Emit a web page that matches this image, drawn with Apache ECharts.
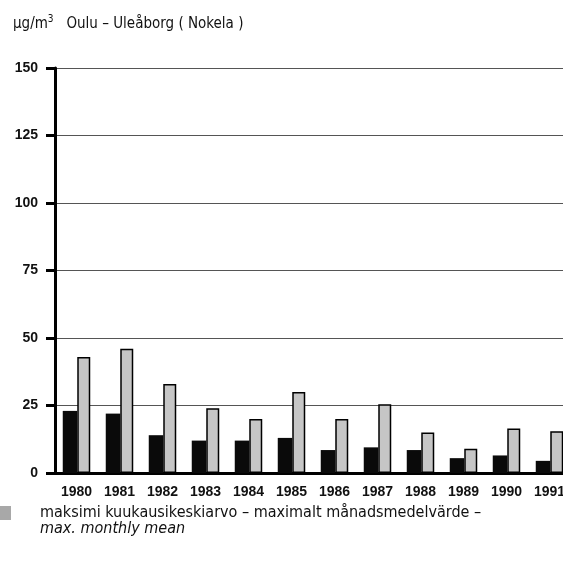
<!DOCTYPE html>
<html>
<head>
<meta charset="utf-8">
<script src="https://cdn.jsdelivr.net/npm/echarts@6/dist/echarts.min.js"></script>
<style>
html,body{margin:0;padding:0;background:#fff;overflow:hidden;}
#c{width:571px;height:568px;}
</style>
</head>
<body>
<div id="c"></div>
<script>
// Data
const years = ['1980','1981','1982','1983','1984','1985','1986','1987','1988','1989','1990','1991'];
const annualMean = [23, 22, 14, 12, 12, 13, 8.5, 9.5, 8.5, 5.5, 6.5, 4.5];
const maxMonthlyMean = [43, 46, 33, 24, 20, 30, 20, 25.5, 15, 9, 16.5, 15.5];
const yTicks = [0, 25, 50, 75, 100, 125, 150];
const legendLine1 = 'maksimi kuukausikeskiarvo – maximalt månadsmedelvärde –';
const legendLine2 = 'max. monthly mean';
const titleUnit = 'µg/m';
const titlePlace = 'Oulu – Uleåborg ( Nokela )';

const NARROW = '"Liberation Sans Narrow", "DejaVu Sans Condensed", "Liberation Sans", sans-serif';
const SANS = '"Liberation Sans", Arial, sans-serif';

const chart = echarts.init(document.getElementById('c'), null, {renderer: 'canvas'});
chart.setOption({
  backgroundColor: '#fff',
  animation: false,
  title: [{
    left: 8, top: 9,
    text: '{u|' + titleUnit + '}{s|3}{p|   ' + titlePlace + '}',
    textStyle: {
      fontWeight: 'normal',
      rich: {
        u: {fontFamily: NARROW, fontSize: 15, fontWeight: 'normal', color: '#111', verticalAlign: 'bottom'},
        s: {fontFamily: NARROW, fontSize: 10, fontWeight: 'normal', color: '#111', verticalAlign: 'top', padding: [0,0,8,0]},
        p: {fontFamily: NARROW, fontSize: 15, fontWeight: 'normal', color: '#111', verticalAlign: 'bottom'}
      }
    }
  }, {
    left: 35, top: 516,
    text: legendLine2,
    textStyle: {fontFamily: NARROW, fontSize: 16, fontStyle: 'italic', fontWeight: 'normal', color: '#111'}
  }],
  legend: {
    data: ['max'],
    left: 0, top: 505,
    icon: 'rect',
    itemWidth: 11, itemHeight: 14,
    itemGap: 0,
    padding: 0,
    formatter: function(){ return legendLine1; },
    textStyle: {fontFamily: NARROW, fontSize: 16, color: '#111', padding: [0,0,0,24]},
    itemStyle: {borderWidth: 0, color: '#a8a8a8'}
  },
  grid: {left: 55, right: 0, top: 68, bottom: 95, containLabel: false},
  xAxis: {
    type: 'category',
    data: years,
    axisLine: {show: true, lineStyle: {color: '#000', width: 3}},
    axisTick: {show: false},
    axisLabel: {fontFamily: SANS, fontSize: 14, fontWeight: 'bold', color: '#111', margin: 12}
  },
  yAxis: {
    type: 'value',
    min: yTicks[0], max: yTicks[yTicks.length-1], interval: 25,
    axisLine: {show: true, lineStyle: {color: '#000', width: 3}},
    axisTick: {show: true, length: 9, lineStyle: {color: '#000', width: 3}},
    axisLabel: {fontFamily: SANS, fontSize: 14, fontWeight: 'bold', color: '#111', margin: 17},
    splitLine: {show: true, lineStyle: {color: '#555', width: 1}}
  },
  series: [{
    name: 'mean',
    type: 'bar',
    data: annualMean,
    barWidth: 14.5,
    barGap: '0%',
    itemStyle: {color: '#0a0a0a'}
  }, {
    name: 'max',
    type: 'bar',
    data: maxMonthlyMean,
    barWidth: 13,
    itemStyle: {color: '#c6c6c6', borderColor: '#000', borderWidth: 1.5}
  }]
});
</script>
</body>
</html>
